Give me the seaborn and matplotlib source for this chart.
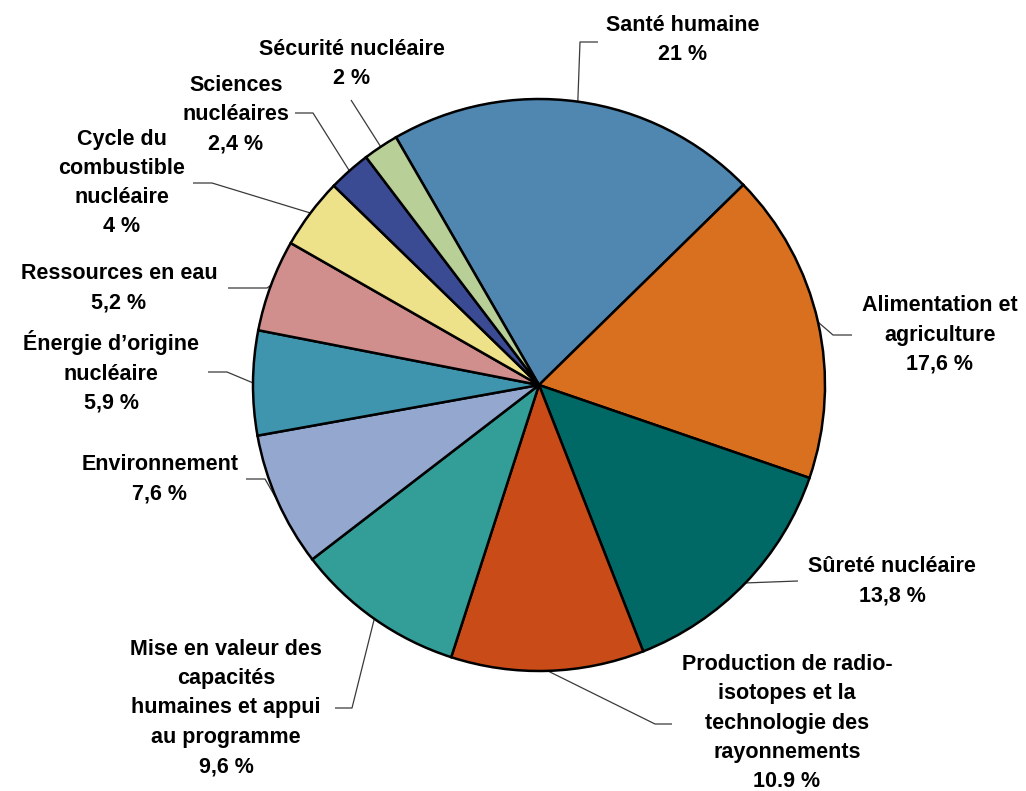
import numpy as np
import matplotlib
matplotlib.use("Agg")
import matplotlib.pyplot as plt
import seaborn as sns

# Programme areas and their share of the budget (%)
categories = [
    "Santé humaine",
    "Alimentation et\nagriculture",
    "Sûreté nucléaire",
    "Production de radio-\nisotopes et la\ntechnologie des\nrayonnements",
    "Mise en valeur des\ncapacités\nhumaines et appui\nau programme",
    "Environnement",
    "Énergie d’origine\nnucléaire",
    "Ressources en eau",
    "Cycle du\ncombustible\nnucléaire",
    "Sciences\nnucléaires",
    "Sécurité nucléaire",
]
shares = [21.0, 17.6, 13.8, 10.9, 9.6, 7.6, 5.9, 5.2, 4.0, 2.4, 2.0]
decimal_marks = [",", ",", ",", ".", ",", ",", ",", ",", ",", ",", ","]

colors = [
    "#4F87B0", "#D9701F", "#006966", "#C84B18", "#339D98", "#94A8CF",
    "#3F95AD", "#D08F8D", "#EDE189", "#3A4B93", "#B8CF97",
]

W, H = 1026, 791
CX, CY, R = 539, 385, 286

# label block centres and leader elbow/end points, in pixel units from top-left
label_pos = [
    (683, 40), (940, 335), (892, 581), (787, 723), (226, 708), (160, 479),
    (111, 372), (119, 288), (122, 183), (236, 115), (352, 64),
]
leader_pts = [
    [(580, 42), (598, 42)],
    [(833, 335), (852, 335)],
    [(798, 581)],
    [(655, 724), (672, 724)],
    [(352, 708), (335, 708)],
    [(265, 479), (246, 479)],
    [(227, 372), (208, 372)],
    [(267, 288), (228, 288)],
    [(212, 183), (193, 183)],
    [(313, 113), (295, 113)],
    [(351, 100)],
]

sns.set_theme(style="white")
plt.rcParams["font.family"] = ["Liberation Sans", "DejaVu Sans"]


def fy(y):
    return H - y


def fmt(v, mark):
    s = f"{v:g}"
    return s.replace(".", mark) + " %"


fig = plt.figure(figsize=(W / 100, H / 100), dpi=100)
ax = fig.add_axes([0, 0, 1, 1])

wedges, _ = ax.pie(
    shares,
    colors=colors,
    startangle=120,
    counterclock=False,
    center=(CX, fy(CY)),
    radius=R,
    wedgeprops=dict(edgecolor="black", linewidth=1.8),
    frame=True,
)
for w in wedges:
    w.set_zorder(3)
ax.set_xlim(0, W)
ax.set_ylim(0, H)
ax.set_aspect("equal")
ax.axis("off")

for w, name, v, mark, (tx, ty), pts in zip(
    wedges, categories, shares, decimal_marks, label_pos, leader_pts
):
    mid = np.deg2rad((w.theta1 + w.theta2) / 2)
    ax_x = CX + R * np.cos(mid)
    ax_y = fy(CY) + R * np.sin(mid)
    xs = [ax_x] + [p[0] for p in pts]
    ys = [ax_y] + [fy(p[1]) for p in pts]
    ax.plot(xs, ys, color="#3a3a3a", linewidth=0.9, zorder=2,
            solid_capstyle="butt")
    ax.text(tx, fy(ty), f"{name}\n{fmt(v, mark)}", ha="center", va="center",
            multialignment="center", fontsize=15.5, fontweight="bold",
            linespacing=1.52, color="black", zorder=4)

fig.savefig("out.png", dpi=100, facecolor="white")
